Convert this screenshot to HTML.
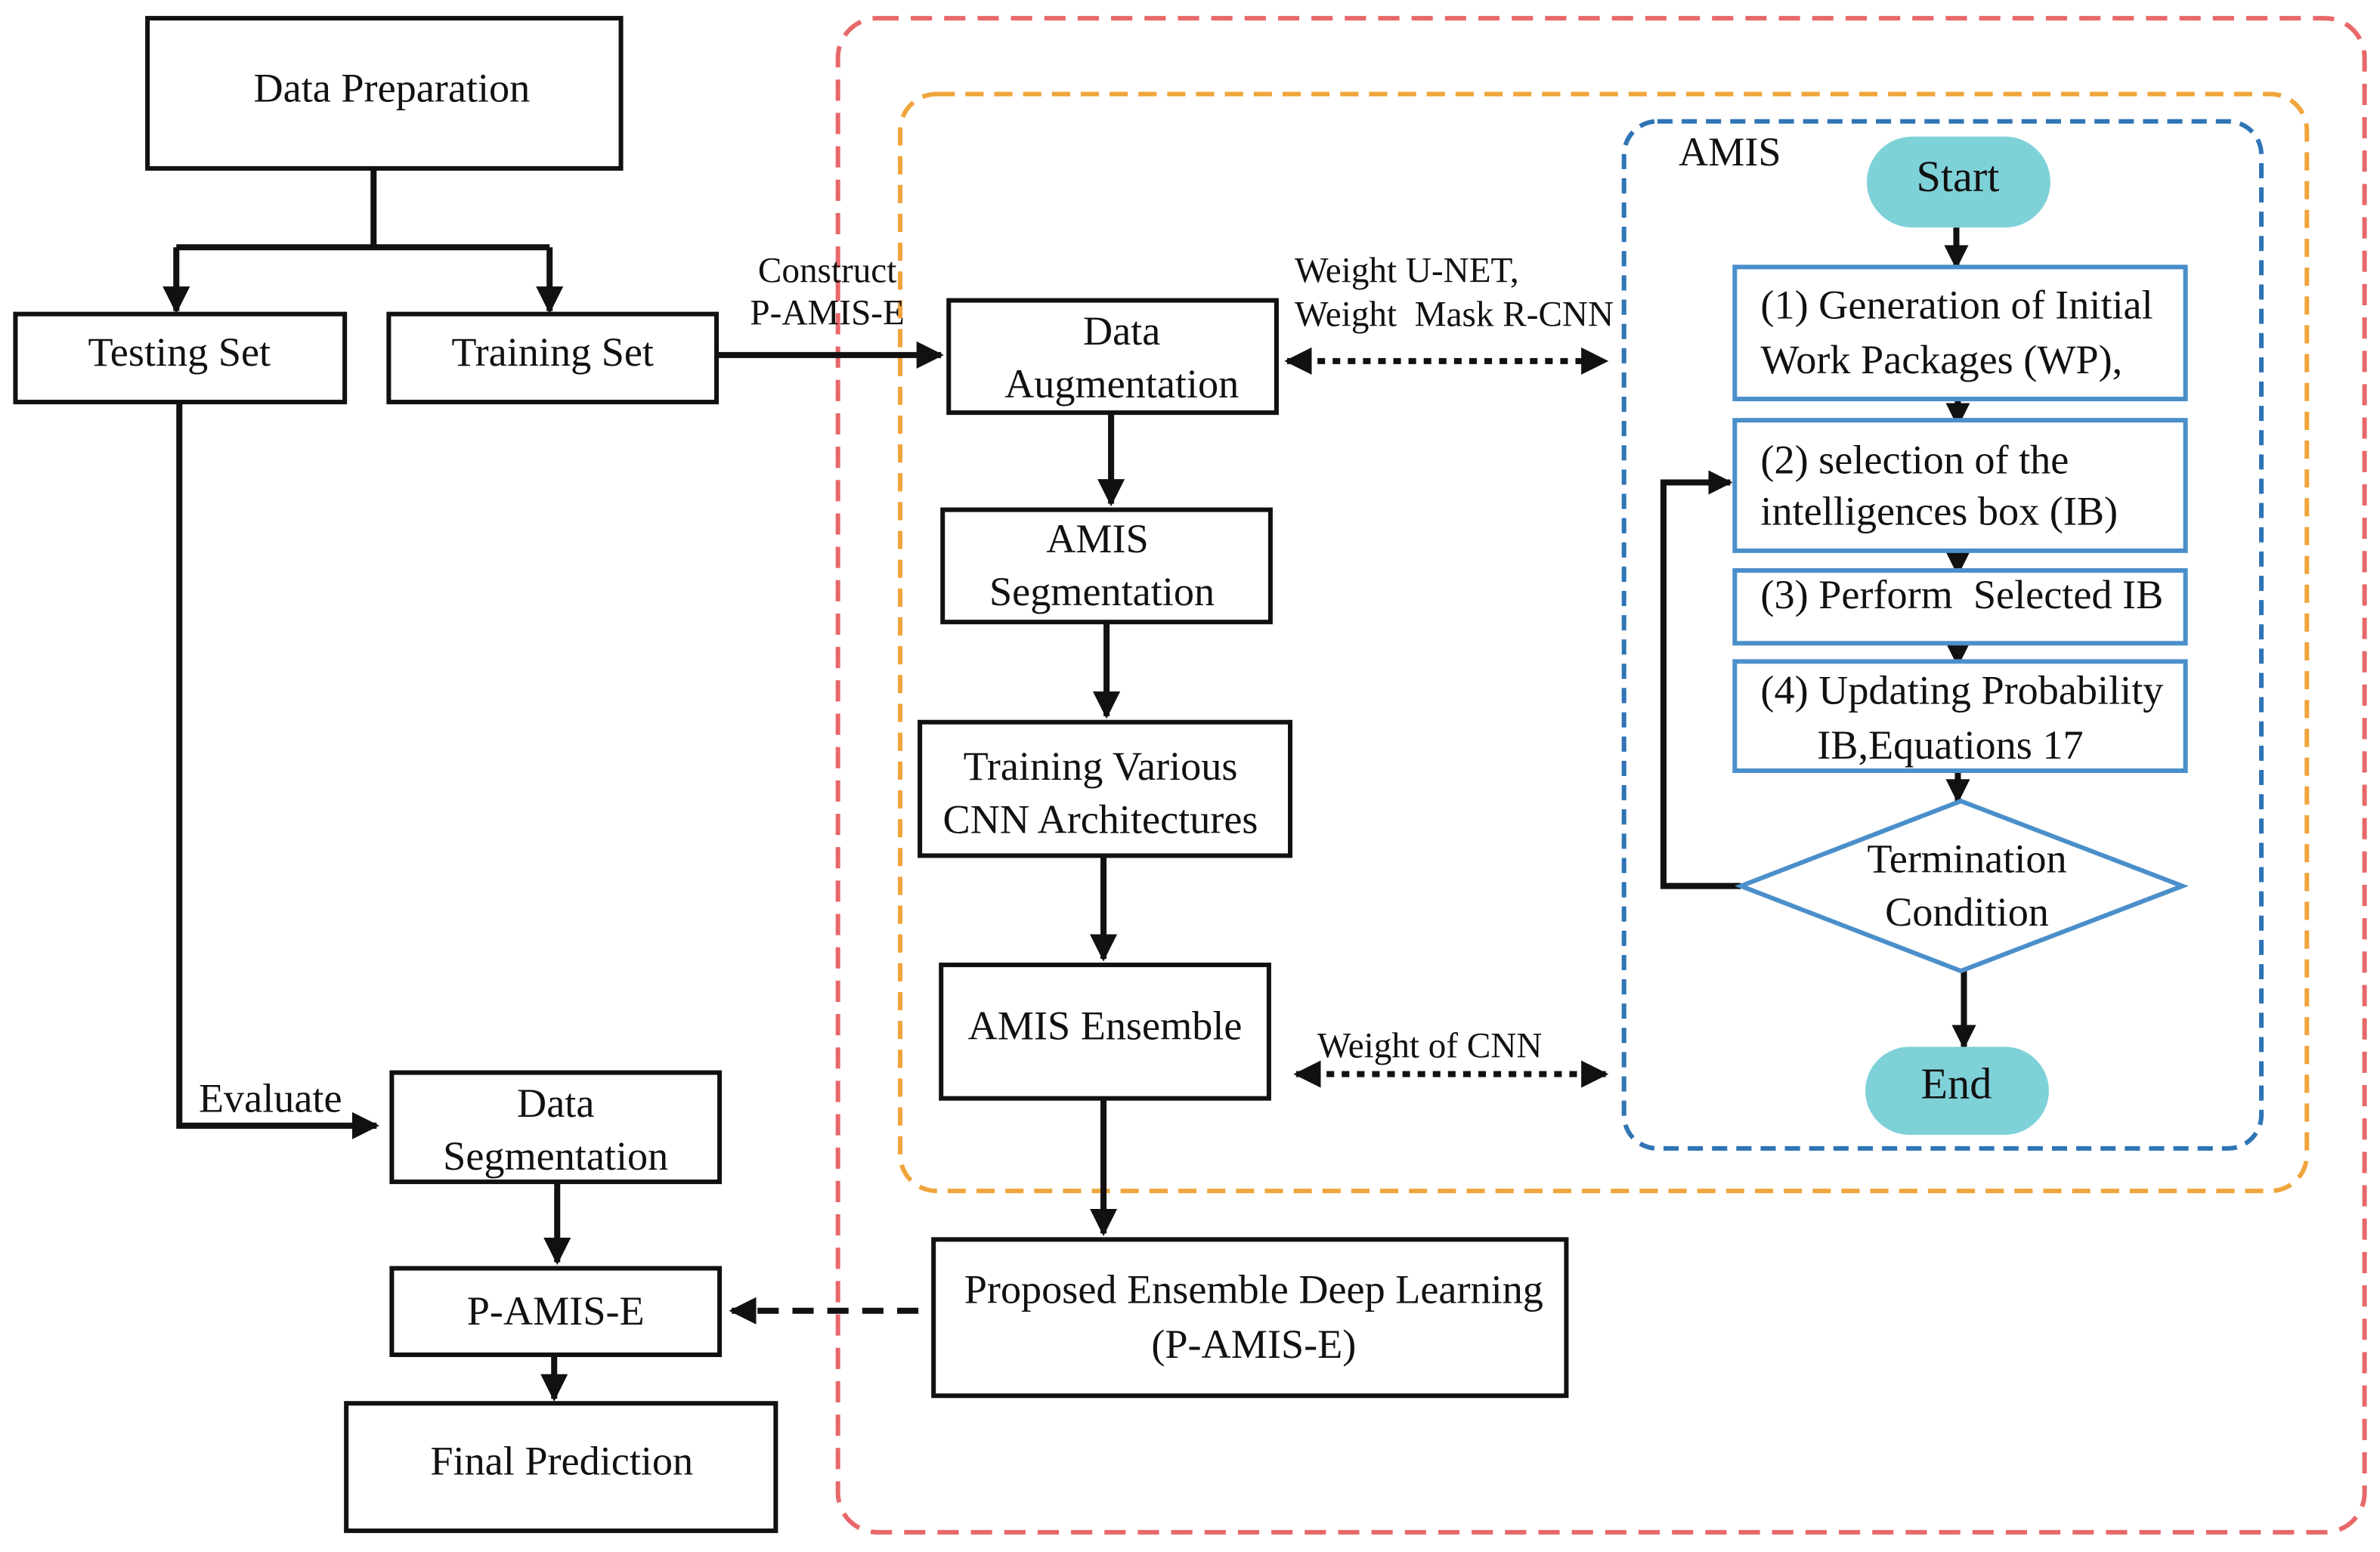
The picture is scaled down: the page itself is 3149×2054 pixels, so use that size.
<!DOCTYPE html>
<html><head><meta charset="utf-8"><style>
html,body{margin:0;padding:0;background:#fff;}
svg{display:block;}
text{font-family:"Liberation Serif",serif;font-size:27px;fill:#111;}
.s{font-size:23.5px;}
</style></head><body>
<svg width="3149" height="2054" viewBox="0 0 1568 1023" xmlns="http://www.w3.org/2000/svg">
<defs>
<marker id="a" viewBox="0 0 10 10" refX="9" refY="5" markerWidth="4.5" markerHeight="4.5" orient="auto-start-reverse"><path d="M0,0 L10,5 L0,10 z" fill="#111"/></marker>
<marker id="b" viewBox="0 0 10 10" refX="9" refY="5" markerWidth="4" markerHeight="4" orient="auto-start-reverse"><path d="M0,0 L10,5 L0,10 z" fill="#111"/></marker>
</defs>
<rect width="1568" height="1023" fill="#fff"/>
<rect x="552" y="12" width="1006" height="998" rx="26" fill="none" stroke="#e8686a" stroke-width="3" stroke-dasharray="14,8"/>
<rect x="593" y="62" width="927" height="723" rx="24" fill="none" stroke="#f0a53c" stroke-width="3" stroke-dasharray="12,7"/>
<rect x="1070" y="80" width="420" height="677" rx="22" fill="none" stroke="#2f74b5" stroke-width="3" stroke-dasharray="10,6"/>

<g fill="#fff" stroke="#111" stroke-width="3">
<rect x="97" y="12" width="312" height="99"/>
<rect x="10" y="207" width="217" height="58"/>
<rect x="256" y="207" width="216" height="58"/>
<rect x="625" y="198" width="216" height="74"/>
<rect x="621" y="336" width="216" height="74"/>
<rect x="606" y="476" width="244" height="88"/>
<rect x="620" y="636" width="216" height="88"/>
<rect x="615" y="817" width="417" height="103"/>
<rect x="258" y="707" width="216" height="72"/>
<rect x="258" y="836" width="216" height="57"/>
<rect x="228" y="925" width="283" height="84"/>
</g>

<g fill="none" stroke="#111" stroke-width="4">
<path d="M246,111 V163 M116,163 H362"/>
<path d="M116,163 V205" marker-end="url(#a)"/>
<path d="M362,163 V205" marker-end="url(#a)"/>
<path d="M472,234 H620" marker-end="url(#a)"/>
<path d="M732,272 V332" marker-end="url(#a)"/>
<path d="M729,410 V472" marker-end="url(#a)"/>
<path d="M727,564 V632" marker-end="url(#a)"/>
<path d="M727,724 V813" marker-end="url(#a)"/>
<path d="M118,265 V742 H248" marker-end="url(#a)"/>
<path d="M367,779 V832" marker-end="url(#a)"/>
<path d="M365,893 V922" marker-end="url(#a)"/>
<path d="M605,864 H482" stroke-dasharray="14,9" marker-end="url(#a)"/>
<path d="M848,238 H1058" stroke-dasharray="5,5" marker-start="url(#a)" marker-end="url(#a)"/>
<path d="M854,708 H1058" stroke-dasharray="5,5" marker-start="url(#a)" marker-end="url(#a)"/>
<path d="M1289,150 V176" marker-end="url(#b)"/>
<path d="M1290,263 V280" marker-end="url(#b)"/>
<path d="M1290,363 V378" marker-end="url(#b)"/>
<path d="M1290,424 V438" marker-end="url(#b)"/>
<path d="M1290,508 V528" marker-end="url(#b)"/>
<path d="M1294,640 V690" marker-end="url(#b)"/>
<path d="M1147,584 H1096 V318 H1140" marker-end="url(#b)"/>
</g>

<rect x="1230" y="90" width="121" height="60" rx="30" fill="#7fd1d8"/>
<rect x="1229" y="690" width="121" height="58" rx="29" fill="#7fd1d8"/>
<g fill="#fff" stroke="#4a8fca" stroke-width="3">
<rect x="1143" y="176" width="297" height="87"/>
<rect x="1143" y="277" width="297" height="86"/>
<rect x="1143" y="376" width="297" height="48"/>
<rect x="1143" y="436" width="297" height="72"/>
<path d="M1292,528 L1438,584 L1292,640 L1147,584 Z"/>
</g>

<g text-anchor="middle">
<text x="258" y="67">Data Preparation</text>
<text x="118" y="241">Testing Set</text>
<text x="364" y="241">Training Set</text>
<text x="545" y="186" style="font-size:23.5px">Construct</text>
<text x="545" y="214" style="font-size:23.5px">P-AMIS-E</text>
<text x="739" y="227">Data</text>
<text x="739" y="262">Augmentation</text>
<text x="723" y="364">AMIS</text>
<text x="726" y="399">Segmentation</text>
<text x="725" y="514">Training Various</text>
<text x="725" y="549">CNN Architectures</text>
<text x="728" y="685">AMIS Ensemble</text>
<text x="942" y="697" style="font-size:23.5px">Weight of CNN</text>
<text x="826" y="859">Proposed Ensemble Deep Learning</text>
<text x="826" y="895">(P-AMIS-E)</text>
<text x="178" y="733">Evaluate</text>
<text x="366" y="736">Data</text>
<text x="366" y="771">Segmentation</text>
<text x="366" y="873">P-AMIS-E</text>
<text x="370" y="972">Final Prediction</text>
<text x="1290" y="126" style="font-size:29px">Start</text>
<text x="1289" y="724" style="font-size:29px">End</text>
<text x="1285" y="500">IB,Equations 17</text>
<text x="1296" y="575">Termination</text>
<text x="1296" y="610">Condition</text>
</g>
<text x="853" y="186" style="font-size:23.5px">Weight U-NET,</text>
<text x="853" y="215" style="font-size:23.5px" xml:space="preserve">Weight  Mask R-CNN</text>
<text x="1106" y="109" style="font-size:27px">AMIS</text>
<text x="1160" y="210">(1) Generation of Initial</text>
<text x="1160" y="246">Work Packages (WP),</text>
<text x="1160" y="312">(2) selection of the</text>
<text x="1160" y="346">intelligences box (IB)</text>
<text x="1160" y="401" xml:space="preserve">(3) Perform  Selected IB</text>
<text x="1160" y="464">(4) Updating Probability</text>
</svg>
</body></html>
